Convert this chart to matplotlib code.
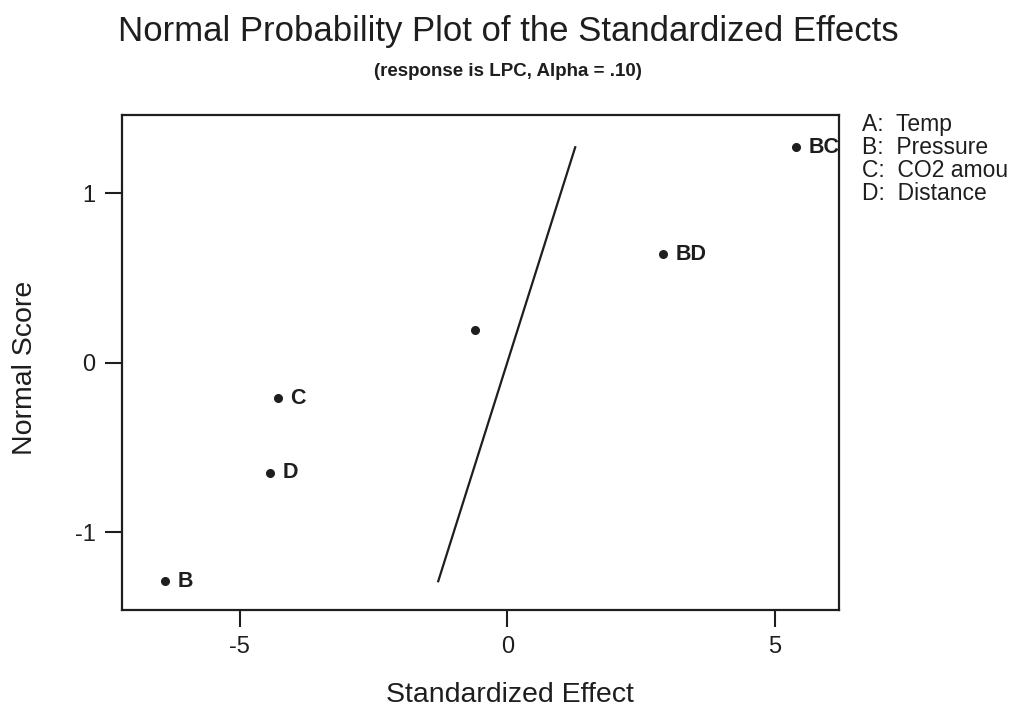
import matplotlib
matplotlib.use("Agg")
import matplotlib.pyplot as plt

plt.rcParams['font.family'] = ['Liberation Sans', 'DejaVu Sans']
plt.rcParams['axes.unicode_minus'] = False

# standardized effects and their normal scores
effects = [-6.39, -4.44, -4.29, -0.61, 2.91, 5.40]
scores = [-1.29, -0.65, -0.21, 0.19, 0.64, 1.27]
labels = ['B', 'D', 'C', '', 'BD', 'BC']

# reference line (x = y * slope)
line_scores = [-1.29, 1.27]
line_slope = 1.0

factor_names = ['A:  Temp', 'B:  Pressure', 'C:  CO2 amou', 'D:  Distance']

ink = '#1e1e1e'

fig = plt.figure(figsize=(10.19, 7.10), dpi=100)
ax = fig.add_axes([0.1197, 0.1408, 0.7037, 0.6972])

ax.plot(effects, scores, 'o', color=ink, markersize=5.5)
ax.plot([s * line_slope for s in line_scores], line_scores, color=ink, lw=1.6)
for x, y, lab in zip(effects, scores, labels):
    if lab:
        ax.annotate(lab, (x, y), xytext=(9, 0), textcoords='offset points',
                    va='center', ha='left', fontsize=15.5, fontweight='bold', color=ink)

ax.set_xlim(-7.2, 6.2)
ax.set_ylim(-1.46, 1.46)
ax.set_xticks([-5, 0, 5])
ax.set_yticks([-1, 0, 1])
ax.tick_params(direction='out', length=12, width=1.5, labelsize=17, pad=7, color=ink, labelcolor=ink)
for sp in ax.spines.values():
    sp.set_linewidth(1.6)
    sp.set_color(ink)

ax.set_xlabel('Standardized Effect', fontsize=20.5, color=ink, va='center')
ax.xaxis.set_label_coords(0.541, -0.172)
ax.set_ylabel('Normal Score', fontsize=20.5, color=ink, va='center')
ax.yaxis.set_label_coords(-0.135, 0.49)

fig.text(0.4985, 0.956, 'Normal Probability Plot of the Standardized Effects',
         ha='center', va='center', fontsize=25, color=ink)
fig.text(0.4985, 0.900, '(response is LPC, Alpha = .10)',
         ha='center', va='center', fontsize=13.5, fontweight='bold', color=ink)

for i, name in enumerate(factor_names):
    fig.text(0.846, 0.825 - i * 0.0324, name, ha='left', va='center',
             fontsize=16.5, color=ink)

fig.savefig('out.png', dpi=100)
